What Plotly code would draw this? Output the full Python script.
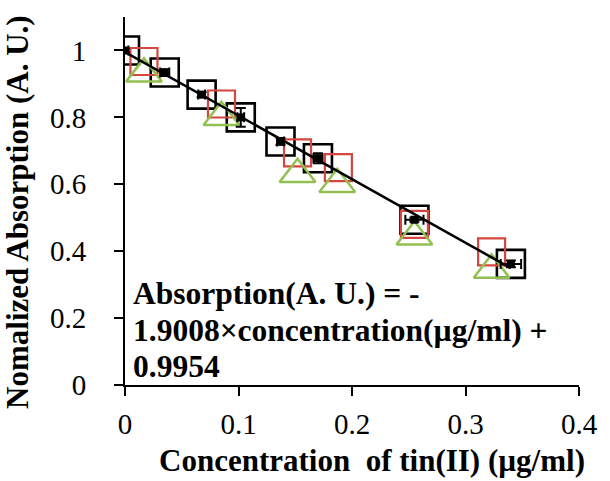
import plotly.graph_objects as go

# Black series (mean values with error bars)
black_x = [0.0, 0.035, 0.0675, 0.102, 0.137, 0.170, 0.255, 0.340]
black_y = [1.0, 0.934, 0.868, 0.800, 0.728, 0.678, 0.494, 0.362]
black_xerr = [0.003, 0.004, 0.003, 0.003, 0.003, 0.004, 0.008, 0.009]
black_yerr = [0.006, 0.010, 0.008, 0.028, 0.010, 0.015, 0.006, 0.010]

# Red series
red_x = [0.0167, 0.085, 0.152, 0.188, 0.255, 0.323]
red_y = [0.967, 0.840, 0.694, 0.650, 0.480, 0.398]

# Green series
green_x = [0.0167, 0.085, 0.152, 0.187, 0.255, 0.323]
green_y = [0.930, 0.800, 0.630, 0.600, 0.443, 0.344]

# Linear fit
slope = -1.9008
intercept = 0.9954
fit_x = [0.0, 0.34]
fit_y = [slope * v + intercept for v in fit_x]

x_ticks = [0, 0.1, 0.2, 0.3, 0.4]
x_ticktext = ["0", "0.1", "0.2", "0.3", "0.4"]
y_ticks = [0, 0.2, 0.4, 0.6, 0.8, 1.0]
y_ticktext = ["0", "0.2", "0.4", "0.6", "0.8", "1"]

eq_lines = ["Absorption(A. U.) = -", "1.9008×concentration(µg/ml) +", "0.9954"]
x_title = "Concentration  of tin(II) (µg/ml)"
y_title = "Nomalized Absorption (A. U.)"

FONT = "Liberation Serif"
L, R, T, B = 125, 23, 17, 96
PW, PH = 610 - L - R, 481 - T - B

def px_x(p):
    return (p - L) / PW

def px_y(p):
    return (481 - B - p) / PH

fig = go.Figure()

fig.add_trace(go.Scatter(
    x=black_x, y=black_y, mode="markers",
    marker=dict(symbol="square-open", size=28, color="black", line=dict(width=2.6, color="black")),
    showlegend=False, hoverinfo="skip"))

fig.add_trace(go.Scatter(
    x=red_x, y=red_y, mode="markers",
    marker=dict(symbol="square-open", size=27, color="#d4463f", line=dict(width=2.2, color="#d4463f")),
    showlegend=False))

fig.add_trace(go.Scatter(
    x=green_x, y=green_y, mode="markers",
    marker=dict(symbol="triangle-up-open", size=31, color="#92c050", line=dict(width=2.5, color="#92c050")),
    showlegend=False))

fig.add_trace(go.Scatter(
    x=fit_x, y=fit_y, mode="lines",
    line=dict(color="black", width=2.5),
    showlegend=False))

fig.add_trace(go.Scatter(
    x=black_x, y=black_y, mode="markers",
    marker=dict(symbol="square", size=8, color="black"),
    error_y=dict(type="data", array=black_yerr, color="black", thickness=2, width=5),
    error_x=dict(type="data", array=black_xerr, color="black", thickness=2, width=5),
    showlegend=False))

annotations = []
for txt, yc in zip(eq_lines, [293, 330, 366]):
    annotations.append(dict(
        text="<b>" + txt + "</b>", xref="paper", yref="paper",
        x=px_x(131), y=px_y(yc), xanchor="left", yanchor="middle",
        align="left", showarrow=False, font=dict(family=FONT, size=31.5, color="black")))
annotations.append(dict(
    text="<b>" + x_title + "</b>", xref="paper", yref="paper",
    x=px_x(376), y=px_y(460), xanchor="center", yanchor="middle", showarrow=False,
    font=dict(family=FONT, size=31, color="black")))
annotations.append(dict(
    text="<b>" + y_title + "</b>", xref="paper", yref="paper",
    x=px_x(15), y=px_y(212), xanchor="center", yanchor="middle", textangle=-90, showarrow=False,
    font=dict(family=FONT, size=31, color="black")))

fig.update_layout(
    width=610, height=481,
    margin=dict(l=L, r=R, t=T, b=B),
    paper_bgcolor="white", plot_bgcolor="white",
    font=dict(family=FONT, color="black", size=29),
    xaxis=dict(range=[0, 0.4], tickvals=x_ticks, ticktext=x_ticktext,
               showgrid=False, zeroline=False, showline=True, linecolor="black", linewidth=2,
               ticks="outside", ticklen=9, tickwidth=2, tickcolor="black",
               ticklabelstandoff=3,
               tickfont=dict(family=FONT, size=29, color="black")),
    yaxis=dict(range=[0, 1.1], tickvals=y_ticks, ticktext=y_ticktext,
               showgrid=False, zeroline=False, showline=True, linecolor="black", linewidth=2,
               ticks="outside", ticklen=9, tickwidth=2, tickcolor="black",
               ticklabelstandoff=22,
               tickfont=dict(family=FONT, size=29, color="black")),
    annotations=annotations,
)

fig.write_html("out.html")
